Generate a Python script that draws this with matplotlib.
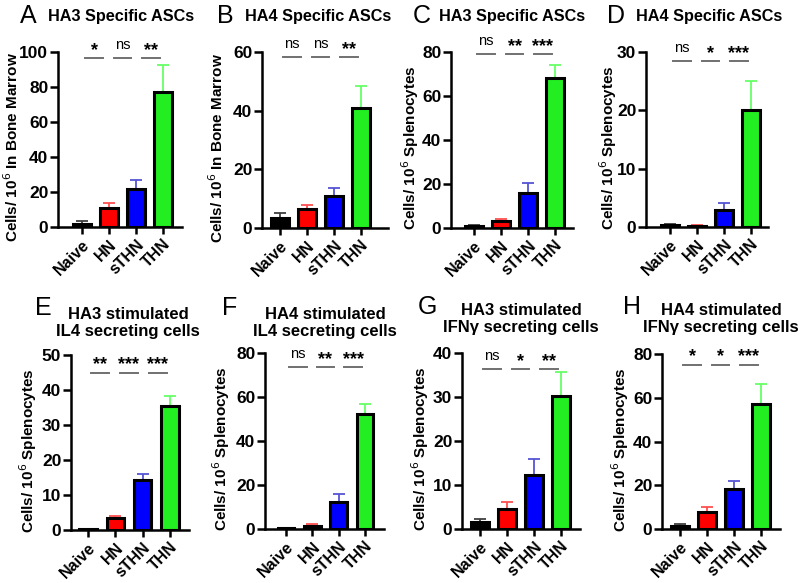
import matplotlib
matplotlib.use('Agg')
import matplotlib.pyplot as plt

plt.rcParams['font.family'] = ['Liberation Sans', 'DejaVu Sans']

groups = ['Naive', 'HN', 'sTHN', 'THN']

letters = ['A', 'B', 'C', 'D', 'E', 'F', 'G', 'H']
titles = ['HA3 Specific ASCs', 'HA4 Specific ASCs', 'HA3 Specific ASCs', 'HA4 Specific ASCs',
          'HA3 stimulated\nIL4 secreting cells', 'HA4 stimulated\nIL4 secreting cells',
          'HA3 stimulated\nIFNγ secreting cells', 'HA4 stimulated\nIFNγ secreting cells']
ylabels = ['Cells/ 10$^{6}$ In Bone Marrow', 'Cells/ 10$^{6}$ In Bone Marrow',
           'Cells/ 10$^{6}$ Splenocytes', 'Cells/ 10$^{6}$ Splenocytes',
           'Cells/ 10$^{6}$ Splenocytes', 'Cells/ 10$^{6}$ Splenocytes',
           'Cells/ 10$^{6}$ Splenocytes', 'Cells/ 10$^{6}$ Splenocytes']

# means and SEM for each panel
A_mean = [2.0, 11.0, 22.0, 77.0];  A_err = [1.5, 3.0, 5.0, 15.5]
B_mean = [3.5, 6.5, 11.0, 41.0];   B_err = [1.5, 1.5, 2.5, 7.5]
C_mean = [0.8, 3.2, 16.0, 68.0];   C_err = [0.7, 0.8, 4.5, 6.0]
D_mean = [0.3, 0.2, 3.0, 20.0];    D_err = [0.2, 0.1, 1.2, 5.0]
E_mean = [0.3, 3.3, 14.3, 35.5];   E_err = [0.1, 0.7, 1.7, 2.8]
F_mean = [0.3, 1.5, 12.5, 52.5];   F_err = [0.2, 0.7, 3.5, 4.5]
G_mean = [1.5, 4.5, 12.3, 30.3];   G_err = [0.7, 1.7, 3.5, 5.4]
H_mean = [1.5, 8.0, 18.2, 57.0];   H_err = [0.7, 2.0, 3.6, 9.5]

means = [A_mean, B_mean, C_mean, D_mean, E_mean, F_mean, G_mean, H_mean]
errs = [A_err, B_err, C_err, D_err, E_err, F_err, G_err, H_err]

ymax = [100, 60, 80, 30, 50, 80, 40, 80]
ystep = [20, 20, 20, 10, 10, 20, 10, 20]

sig = [['*', 'ns', '**'], ['ns', 'ns', '**'], ['ns', '**', '***'], ['ns', '*', '***'],
       ['**', '***', '***'], ['ns', '**', '***'], ['ns', '*', '**'], ['*', '*', '***']]

# ---- layout (pixels) ----
W, H = 800, 583
# axis_left, first_bar, last_bar, axis_right, top, bottom
layout = [(58, 82, 163, 182, 52, 227),
          (262, 280, 361, 388, 52, 228),
          (451, 474, 555, 573, 52, 228),
          (646, 670, 751, 768, 52, 227),
          (71, 88, 170, 189, 355, 530),
          (265, 286, 365, 384, 353, 529),
          (462, 480, 561, 580, 353, 529),
          (662, 680, 761, 780, 354, 529)]
sig_frac = [0.965, 0.97, 0.99, 0.95, 0.90, 0.92, 0.91, 0.94]
letter_pos = [(20, 16), (217, 16), (413, 16), (607, 16), (35, 308), (222, 308), (418, 307), (623, 307)]
title_pos = [(48, 17, 'left', 11.7), (245, 17, 'left', 11.7), (439, 16, 'left', 11.7),
             (636, 17, 'left', 11.7),
             (128, 323, 'center', 12), (325, 323, 'center', 12), (521, 319, 'center', 12),
             (721, 319, 'center', 12)]
ylab_x = [12, 217, 410, 608, 28, 221, 420, 620]

bar_colors = ['#000000', '#ff0000', '#0000ff', '#22ee22']
err_colors = ['#404040', '#ff5050', '#5555d5', '#66ff66']

fig = plt.figure(figsize=(W / 100, H / 100), dpi=100)

def fx(x):
    return x / W

def fy(y):
    return 1 - y / H

for i in range(8):
    al, fb, lb, ar, top, bot = layout[i]
    sp = (lb - fb) / 3.0
    ax = fig.add_axes([fx(al), fy(bot), (ar - al) / W, (bot - top) / H])
    x = list(range(4))
    for j in range(4):
        ax.errorbar(x[j], means[i][j], yerr=[[0], [errs[i][j]]], color=err_colors[j],
                    elinewidth=1.3, capsize=4, capthick=1.3, zorder=1)
    ax.bar(x, means[i], width=0.63, color=bar_colors, edgecolor='black',
           linewidth=2.2, zorder=2)

    ax.set_xlim(-(fb - al) / sp, 3 + (ar - lb) / sp)
    ax.set_ylim(0, ymax[i])
    ax.set_yticks(list(range(0, ymax[i] + 1, ystep[i])))
    ax.set_xticks(x)
    ax.set_xticklabels(groups, rotation=45, ha='right', rotation_mode='anchor',
                       fontsize=11.5, fontweight='bold')
    for lab in ax.get_yticklabels():
        lab.set_fontweight('bold')
        lab.set_fontsize(12.5)
    ax.spines['top'].set_visible(False)
    ax.spines['right'].set_visible(False)
    ax.spines['left'].set_linewidth(1.8)
    ax.spines['bottom'].set_linewidth(1.8)
    ax.tick_params(axis='y', direction='out', width=1.8, length=6, pad=1)
    ax.tick_params(axis='x', direction='out', width=1.8, length=5, pad=2)
    ax.patch.set_alpha(0)

    ys = sig_frac[i] * ymax[i]
    for k, cen in enumerate([0.45, 1.5, 2.55]):
        ax.plot([cen - 0.33, cen + 0.33], [ys, ys], color='#707070', lw=1.4,
                clip_on=False, zorder=4)
        s = sig[i][k]
        if s == 'ns':
            ax.text(cen, ys + ymax[i] * 0.035, s, ha='center', va='bottom', fontsize=10.5,
                    clip_on=False)
        else:
            ax.text(cen, ys - ymax[i] * 0.005, s, ha='center', va='bottom', fontsize=13,
                    fontweight='bold', clip_on=False)

    lx, ly = letter_pos[i]
    fig.text(fx(lx), fy(ly), letters[i], fontsize=18, ha='left', va='center')
    tx, ty, tha, tfs = title_pos[i]
    fig.text(fx(tx), fy(ty), titles[i], fontsize=tfs, fontweight='bold', ha=tha, va='center',
             linespacing=1.2)
    fig.text(fx(ylab_x[i]), fy((top + bot) / 2 + 8), ylabels[i], rotation=90, fontsize=11,
             fontweight='bold', ha='center', va='center')

fig.savefig('out.png', dpi=100)
